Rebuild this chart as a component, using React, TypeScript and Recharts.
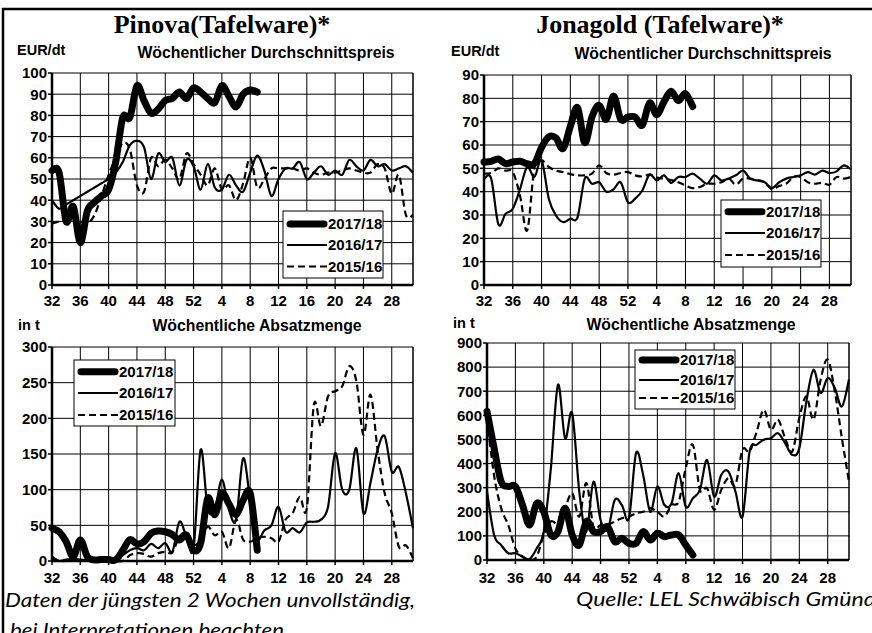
import React from 'react';
import { LineChart, Line, XAxis, YAxis, CartesianGrid, ReferenceLine } from 'recharts';

// Marketing weeks: 32..52 of the first year, then 1..31
const WEEKS = [
  32, 33, 34, 35, 36, 37, 38, 39, 40, 41, 42, 43, 44, 45, 46, 47, 48, 49, 50, 51, 52,
  1, 2, 3, 4, 5, 6, 7, 8, 9, 10, 11, 12, 13, 14, 15, 16, 17, 18, 19, 20, 21, 22, 23, 24, 25,
  26, 27, 28, 29, 30, 31,
];
const TICK_WEEKS = [32, 36, 40, 44, 48, 52, 4, 8, 12, 16, 20, 24, 28];
const SEASONS = ['2017/18', '2016/17', '2015/16'];

const PRICE_TICKS_PINOVA = [0, 10, 20, 30, 40, 50, 60, 70, 80, 90, 100];
const PRICE_TICKS_JONAGOLD = [0, 10, 20, 30, 40, 50, 60, 70, 80, 90];
const VOLUME_TICKS_PINOVA = [0, 50, 100, 150, 200, 250, 300];
const VOLUME_TICKS_JONAGOLD = [0, 100, 200, 300, 400, 500, 600, 700, 800, 900];

// Pinova, Wöchentlicher Durchschnittspreis (EUR/dt)
const PINOVA_PRICE_1718 = [
  54, 53, 30, 37, 20, 35, 39, 42, 45, 58, 79, 79, 94, 87, 81, 83, 87, 88, 91, 88, 93,
  91, 88, 86, 94, 89, 84, 90, 92, 91,
];
const PINOVA_PRICE_1617 = [
  40, 36, 38, 40, 42, 44, 46, 48, 50, 53, 58, 66, 68, 65, 50, 62, 58, 60, 47, 59, 56,
  45, 57, 46, 45, 52, 47, 44, 53, 61, 54, 42, 50, 55, 55, 58, 50, 53, 56, 52, 54, 52, 59, 56,
  54, 59, 56, 57, 54, 55, 56, 53,
];
const PINOVA_PRICE_1516 = [
  29, 30, 32, 33, 30, 29, 33, 42, 52, 60, 67, 64, 47, 44, 60, 56, 59, 55, 50, 62, 57,
  52, 47, 55, 45, 47, 40, 48, 60, 46, 50, 55, 55, 55, 55, 54, 55, 53, 52, 53, 53, 54, 55, 54,
  53, 53, 57, 55, 43, 52, 33, 33,
];

// Jonagold, Wöchentlicher Durchschnittspreis (EUR/dt)
const JONAGOLD_PRICE_1718 = [
  52.7, 53, 54, 52, 52.7, 53, 52, 52, 59, 63.5, 63, 58.5, 68, 76, 61, 72, 77, 71, 81, 71, 72,
  72, 68.5, 78, 73, 78.5, 83, 79, 82, 76.5,
];
const JONAGOLD_PRICE_1617 = [
  45.6, 45.6, 26, 30.5, 32.7, 41, 50.6, 46.3, 53.4, 37, 29.8, 27, 28.4, 29, 45.6, 43.4, 44, 40,
  41, 44, 35.5, 37, 40.5, 47.3, 44.8, 47, 43.8, 46.3, 46.3, 47.7, 45.6, 43.4, 47, 44.8, 45.6,
  47, 49, 45.6, 44.8, 44, 41.5, 44, 45.6, 46.3, 47, 48.4, 47.3, 49, 48, 48.7, 51.3, 49.6,
];
const JONAGOLD_PRICE_1516 = [
  47.7, 48, 50, 49, 48.4, 38.4, 23.4, 50, 53.4, 50.6, 49, 48.4, 47.5, 47, 47, 47.7, 51.3, 48,
  47.3, 48, 48.4, 47, 46.5, 47.3, 46, 45.6, 45, 44, 42.7, 41.5, 42, 43.4, 43.4, 44, 45.6, 43,
  45.6, 45.6, 45, 44, 41, 42.4, 43.4, 46.3, 46.3, 44, 43.4, 43.8, 43, 46.3, 45.6, 46.3,
];

// Pinova, Wöchentliche Absatzmenge (t)
const PINOVA_VOLUME_1718 = [
  46, 41, 27, 6, 29.5, 6, 1.5, 2, 2, 1.5, 15, 30, 24, 27, 39, 42, 41, 37, 29.5, 36.5, 15,
  25, 88, 65, 95, 80, 65, 85, 95, 15,
];
const PINOVA_VOLUME_1617 = [
  6, 0, 2, 3, 2, 1, 1, 2, 2, 2, 8, 15, 18, 15, 24, 18, 25, 13, 55, 34, 18,
  156, 74, 72, 114, 72, 58, 144, 86, 32, 43, 50, 76, 41, 46, 40, 54, 55, 58, 76, 151, 100,
  100, 158, 67, 110, 156, 175, 125, 132, 95, 46,
];
const PINOVA_VOLUME_1516 = [
  4, 0, 0, 0, 0, 0, 0, 0, 0, 0, 0, 8, 11, 10, 6, 11, 13, 12, 34, 39, 22,
  30, 48, 36, 41, 18, 58, 30, 27, 32, 34, 32, 27, 58, 67, 90, 74, 219, 189, 231, 238, 245,
  273, 252, 177, 233, 156, 95, 67, 20, 22, 4,
];

// Jonagold, Wöchentliche Absatzmenge (t)
const JONAGOLD_VOLUME_1718 = [
  616, 464, 325, 305, 305, 228, 145, 235, 200, 104, 118, 215, 104, 62, 160, 118, 118, 138, 76,
  90, 69, 69, 118, 83, 111, 97, 104, 104, 62, 21,
];
const JONAGOLD_VOLUME_1617 = [
  284, 104, 62, 28, 28, 14, 4, 48, 118, 381, 727, 505, 609, 284, 118, 325, 166, 125, 249, 228,
  173, 443, 353, 200, 305, 228, 235, 360, 221, 256, 291, 415, 263, 353, 367, 284, 180, 450,
  478, 499, 505, 526, 485, 436, 464, 658, 789, 692, 755, 713, 637, 748,
];
const JONAGOLD_VOLUME_1516 = [
  589, 350, 215, 145, 48, 14, 0, 14, 104, 160, 152, 215, 277, 180, 319, 138, 145, 145, 160,
  173, 180, 194, 200, 215, 200, 180, 228, 242, 381, 478, 291, 298, 208, 291, 339, 312, 457,
  450, 533, 623, 540, 582, 505, 450, 589, 679, 582, 748, 831, 699, 505, 325,
];

const TICK_IDX = TICK_WEEKS.map((w) => WEEKS.indexOf(w));
const LAST_IDX = WEEKS.length - 1;

const buildRows = (a: number[], b: number[], c: number[]) =>
  WEEKS.map((week, idx) => ({
    idx,
    week,
    s1718: a[idx] ?? null,
    s1617: b[idx] ?? null,
    s1516: c[idx] ?? null,
  }));

// Excel-style smoothed line (uniform Catmull-Rom as cubic Bezier)
const smoothCurve = (context: any) => {
  let pts: [number, number][] = [];
  return {
    areaStart() {},
    areaEnd() {},
    lineStart() {
      pts = [];
    },
    point(x: number, y: number) {
      pts.push([+x, +y]);
    },
    lineEnd() {
      if (!pts.length) return;
      context.moveTo(pts[0][0], pts[0][1]);
      for (let i = 0; i < pts.length - 1; i++) {
        const p0 = pts[i - 1] || pts[i];
        const p1 = pts[i];
        const p2 = pts[i + 1];
        const p3 = pts[i + 2] || p2;
        context.bezierCurveTo(
          p1[0] + (p2[0] - p0[0]) / 6,
          p1[1] + (p2[1] - p0[1]) / 6,
          p2[0] - (p3[0] - p1[0]) / 6,
          p2[1] - (p3[1] - p1[1]) / 6,
          p2[0],
          p2[1],
        );
      }
    },
  };
};

const SANS = '"Liberation Sans", Arial, sans-serif';
const tickStyle = { fill: '#000', fontSize: 15, fontWeight: 700, fontFamily: SANS };

interface PanelProps {
  left: number;
  top: number;
  marginTop: number;
  yWidth: number;
  right: number;
  xHeight: number;
  xTickMargin: number;
  yTicks: number[];
  rows: ReturnType<typeof buildRows>;
}

function Panel({ left, top, marginTop, yWidth, right, xHeight, xTickMargin, yTicks, rows }: PanelProps) {
  return (
    <div style={{ position: 'absolute', left, top }}>
      <LineChart width={436} height={250} data={rows} margin={{ top: marginTop, right, bottom: 0, left: 0 }}>
        <CartesianGrid stroke="#000" strokeWidth={1} />
        <XAxis
          type="number"
          dataKey="idx"
          domain={[0, LAST_IDX]}
          ticks={TICK_IDX}
          interval={0}
          tickFormatter={(i: number) => String(WEEKS[i])}
          height={xHeight}
          tickSize={4}
          tickMargin={xTickMargin}
          axisLine={{ stroke: '#000', strokeWidth: 2.5 }}
          tickLine={{ stroke: '#000', strokeWidth: 1.5 }}
          tick={tickStyle}
        />
        <YAxis
          type="number"
          domain={[0, yTicks[yTicks.length - 1]]}
          ticks={yTicks}
          interval={0}
          width={yWidth}
          tickSize={4}
          tickMargin={1}
          axisLine={{ stroke: '#000', strokeWidth: 2.5 }}
          tickLine={{ stroke: '#000', strokeWidth: 1.5 }}
          tick={tickStyle}
        />
        <ReferenceLine x={LAST_IDX} stroke="#000" strokeWidth={1} />
        <Line
          type={smoothCurve as any}
          dataKey="s1516"
          name={SEASONS[2]}
          stroke="#000"
          strokeWidth={2.2}
          strokeDasharray="7 4"
          dot={false}
          isAnimationActive={false}
        />
        <Line
          type={smoothCurve as any}
          dataKey="s1617"
          name={SEASONS[1]}
          stroke="#000"
          strokeWidth={2.2}
          dot={false}
          isAnimationActive={false}
        />
        <Line
          type={smoothCurve as any}
          dataKey="s1718"
          name={SEASONS[0]}
          stroke="#000"
          strokeWidth={7}
          strokeLinecap="round"
          strokeLinejoin="round"
          dot={false}
          isAnimationActive={false}
        />
      </LineChart>
    </div>
  );
}

// legend box drawn over the plot
function LegendBox({ x, y, w, h, rowsY, lineX }: { x: number; y: number; w: number; h: number; rowsY: number[]; lineX: number }) {
  const styles = [
    { strokeWidth: 7, dash: undefined },
    { strokeWidth: 2.2, dash: undefined },
    { strokeWidth: 2.2, dash: '7 4' },
  ];
  return (
    <g>
      <rect x={x} y={y} width={w} height={h} fill="#fff" stroke="#000" strokeWidth={1} />
      {SEASONS.map((s, i) => (
        <g key={s}>
          <line
            x1={lineX + (i === 0 ? 3 : 0)}
            x2={lineX + 40 - (i === 0 ? 3 : 0)}
            y1={rowsY[i]}
            y2={rowsY[i]}
            stroke="#000"
            strokeWidth={styles[i].strokeWidth}
            strokeDasharray={styles[i].dash}
            strokeLinecap={i === 0 ? 'round' : 'butt'}
          />
          <text x={lineX + 41} y={rowsY[i] + 5.4} fontSize={15} fontWeight={700} fontFamily={SANS} fill="#000">
            {s}
          </text>
        </g>
      ))}
    </g>
  );
}

export default function App() {
  const serif = '"Liberation Serif", "Times New Roman", serif';
  const italic = 'Lato, "Open Sans", sans-serif';
  return (
    <div style={{ position: 'absolute', left: 0, top: 0, width: 872, height: 633, overflow: 'hidden', background: '#fff' }}>
      <Panel left={0} top={60} marginTop={13} yWidth={52} right={23} xHeight={25} xTickMargin={6}
        yTicks={PRICE_TICKS_PINOVA} rows={buildRows(PINOVA_PRICE_1718, PINOVA_PRICE_1617, PINOVA_PRICE_1516)} />
      <Panel left={436} top={60} marginTop={15} yWidth={48} right={21} xHeight={25} xTickMargin={6}
        yTicks={PRICE_TICKS_JONAGOLD} rows={buildRows(JONAGOLD_PRICE_1718, JONAGOLD_PRICE_1617, JONAGOLD_PRICE_1516)} />
      <Panel left={0} top={335} marginTop={12} yWidth={52} right={23} xHeight={24} xTickMargin={7}
        yTicks={VOLUME_TICKS_PINOVA} rows={buildRows(PINOVA_VOLUME_1718, PINOVA_VOLUME_1617, PINOVA_VOLUME_1516)} />
      <Panel left={436} top={335} marginTop={8} yWidth={51} right={23} xHeight={25} xTickMargin={8}
        yTicks={VOLUME_TICKS_JONAGOLD} rows={buildRows(JONAGOLD_VOLUME_1718, JONAGOLD_VOLUME_1617, JONAGOLD_VOLUME_1516)} />

      <svg width={872} height={633} style={{ position: 'absolute', left: 0, top: 0, pointerEvents: 'none' }}>
        {/* outer frame */}
        <line x1={2} x2={872} y1={9} y2={9} stroke="#000" strokeWidth={2.5} />
        <line x1={3} x2={3} y1={8} y2={633} stroke="#000" strokeWidth={2.5} />

        <text x={222} y={33} textAnchor="middle" fontSize={26} fontWeight={700} fontFamily={serif}>Pinova(Tafelware)*</text>
        <text x={660} y={33} textAnchor="middle" fontSize={26} fontWeight={700} fontFamily={serif}>Jonagold (Tafelware)*</text>

        <text x={17} y={55} fontSize={14.5} fontWeight={700} fontFamily={SANS}>EUR/dt</text>
        <text x={266} y={58} textAnchor="middle" fontSize={15.8} fontWeight={700} fontFamily={SANS}>Wöchentlicher Durchschnittspreis</text>
        <text x={451} y={56} fontSize={14.5} fontWeight={700} fontFamily={SANS}>EUR/dt</text>
        <text x={703} y={59} textAnchor="middle" fontSize={15.8} fontWeight={700} fontFamily={SANS}>Wöchentlicher Durchschnittspreis</text>

        <text x={18} y={330} fontSize={14.5} fontWeight={700} fontFamily={SANS}>in t</text>
        <text x={257} y={331} textAnchor="middle" fontSize={15.8} fontWeight={700} fontFamily={SANS}>Wöchentliche Absatzmenge</text>
        <text x={453} y={328} fontSize={14.5} fontWeight={700} fontFamily={SANS}>in t</text>
        <text x={691} y={330} textAnchor="middle" fontSize={15.8} fontWeight={700} fontFamily={SANS}>Wöchentliche Absatzmenge</text>

        <LegendBox x={283} y={211} w={100} h={67} rowsY={[224, 245, 266.5]} lineX={287} />
        <LegendBox x={721} y={200} w={100} h={67} rowsY={[211.7, 233, 255]} lineX={725} />
        <LegendBox x={74} y={360} w={101} h={66} rowsY={[371.7, 393, 415]} lineX={78} />
        <LegendBox x={635} y={350} w={100} h={59} rowsY={[360, 380, 398]} lineX={639} />

        <text x={5} y={607} fontSize={20} fontStyle="italic" fontFamily={italic} textLength={410} lengthAdjust="spacingAndGlyphs">
          Daten der jüngsten 2 Wochen unvollständig,
        </text>
        <text x={10} y={637} fontSize={20} fontStyle="italic" fontFamily={italic} textLength={274} lengthAdjust="spacingAndGlyphs">
          bei Interpretationen beachten
        </text>
        <text x={576} y={606} fontSize={20} fontStyle="italic" fontFamily={italic} textLength={300} lengthAdjust="spacingAndGlyphs">
          Quelle: LEL Schwäbisch Gmünd
        </text>
      </svg>
    </div>
  );
}
